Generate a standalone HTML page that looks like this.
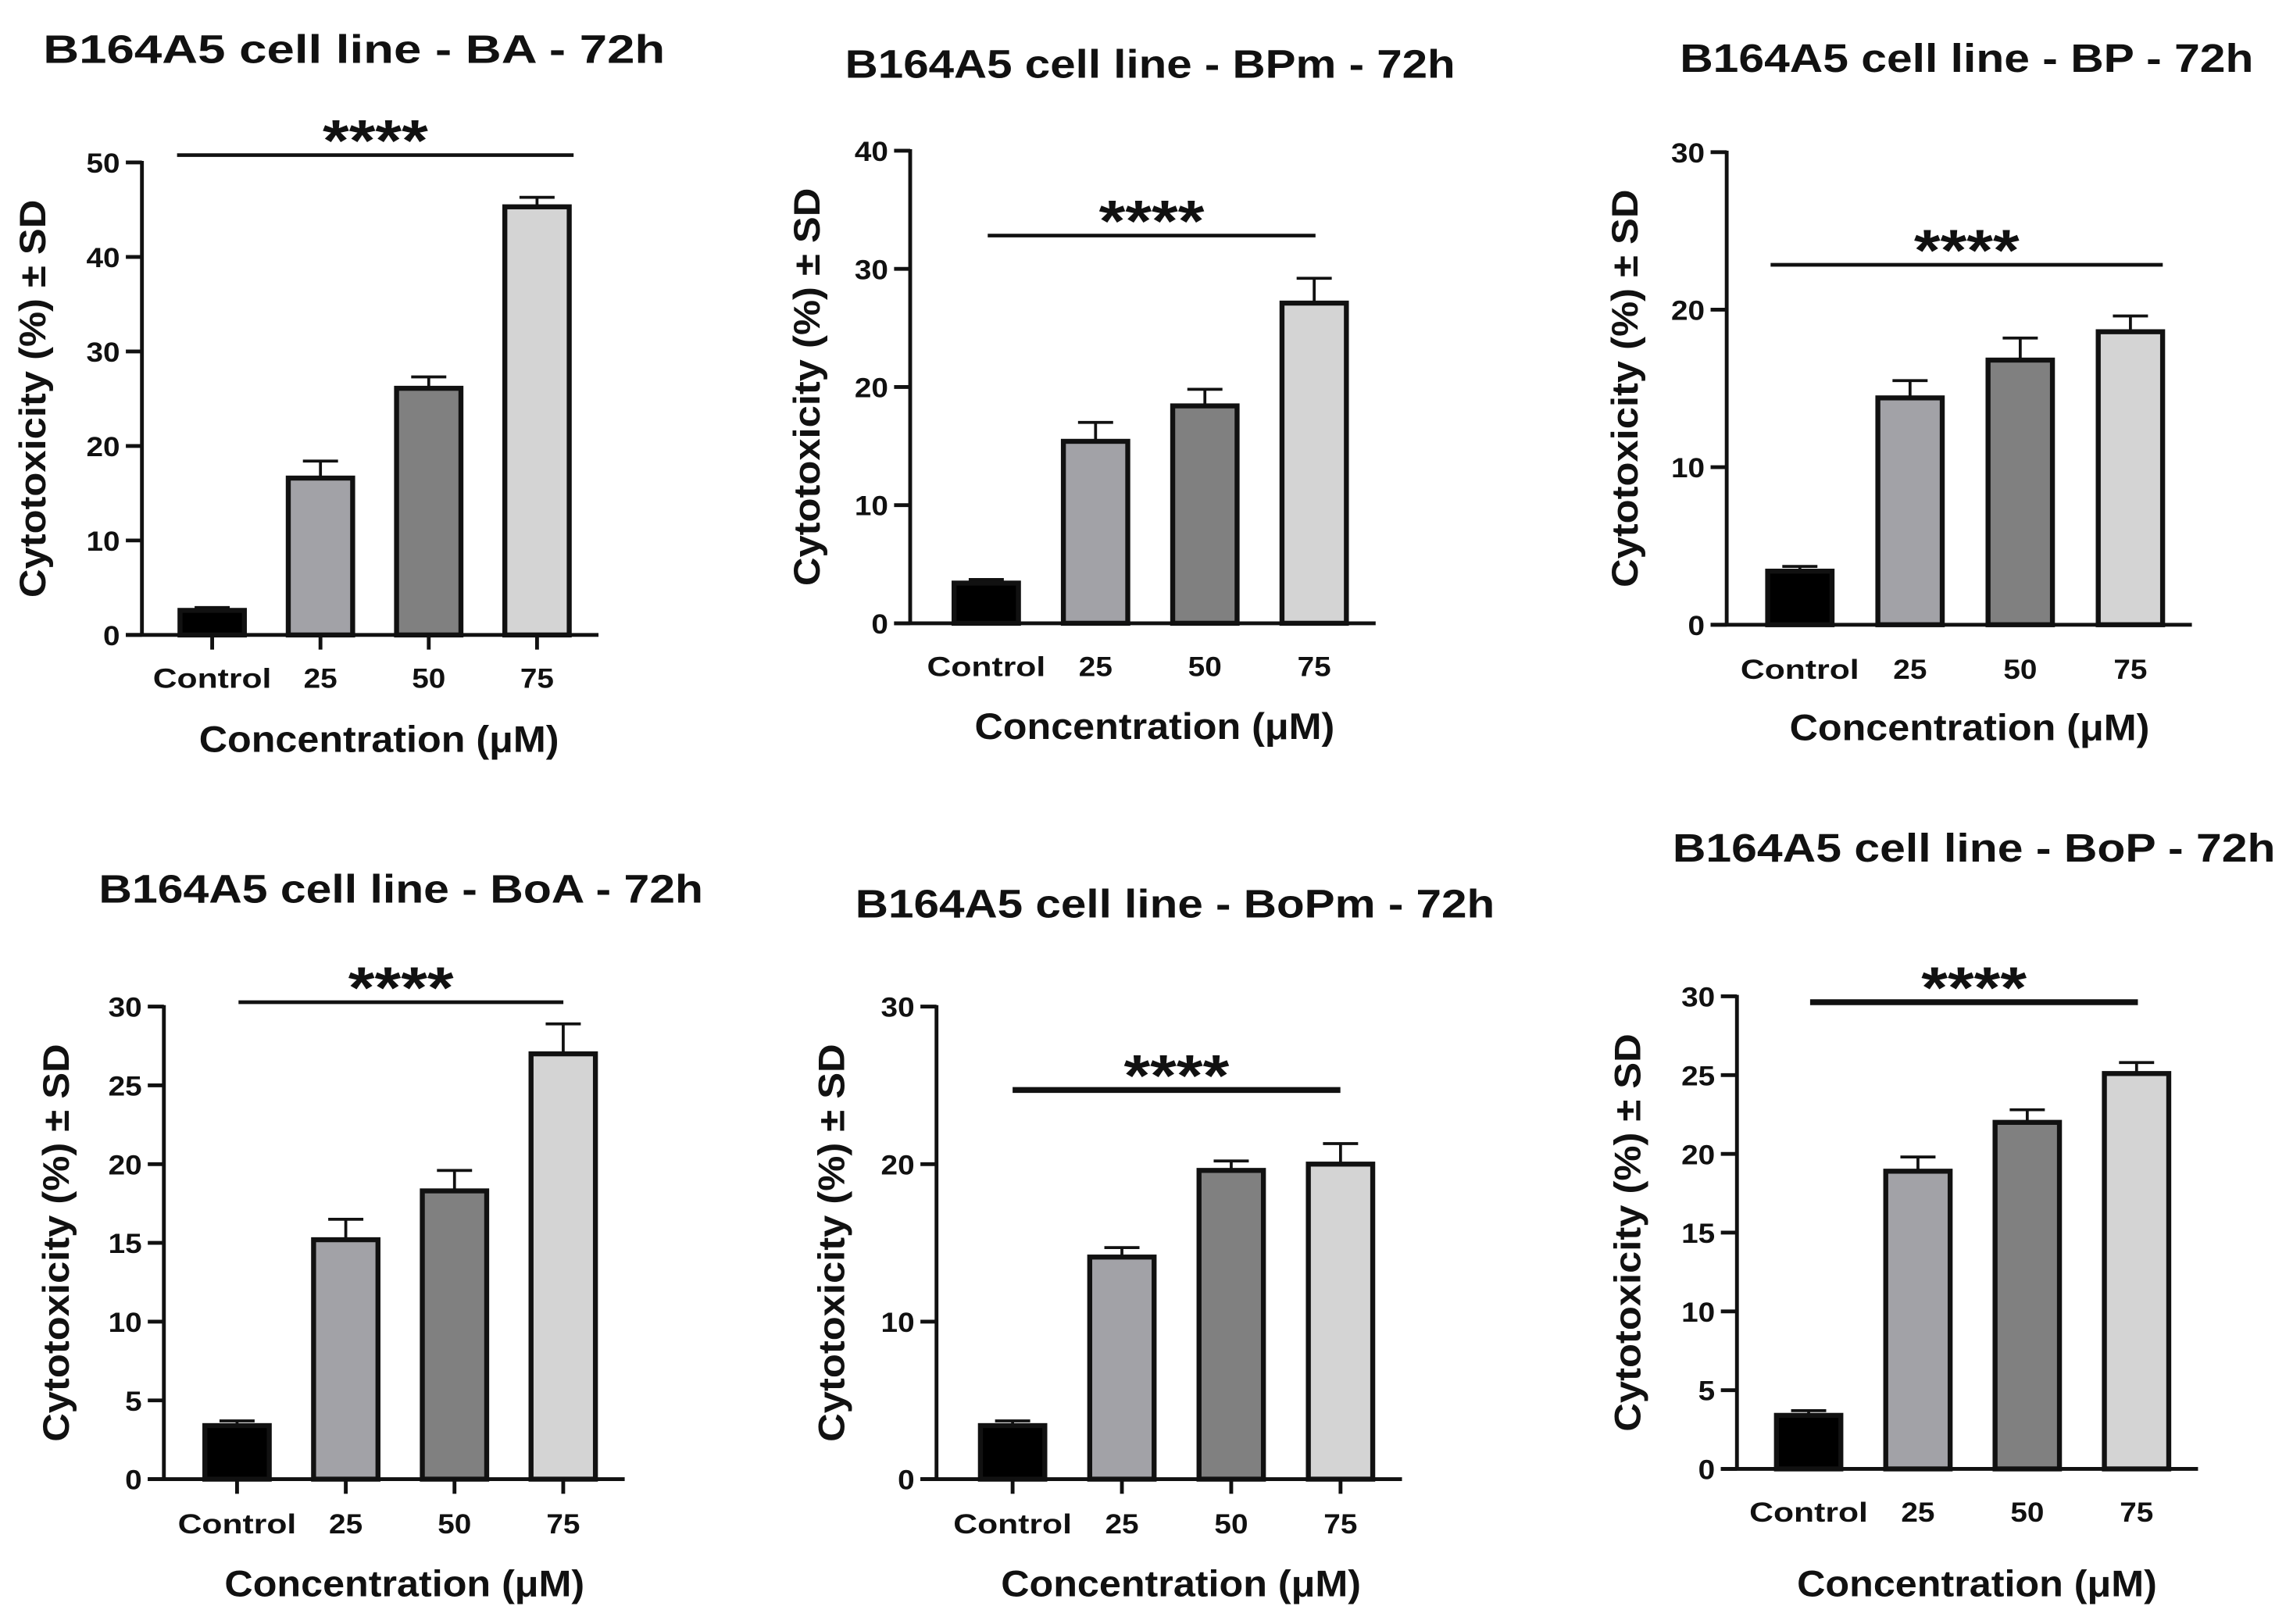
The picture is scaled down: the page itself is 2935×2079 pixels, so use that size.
<!DOCTYPE html>
<html><head><meta charset="utf-8"><style>
html,body{margin:0;padding:0;background:#fff;}
svg{display:block;}
text{font-family:"Liberation Sans",Arial,sans-serif;font-weight:bold;fill:#111;}
</style></head>
<body>
<svg id="fig" xmlns="http://www.w3.org/2000/svg" width="2935" height="2079" viewBox="0 0 1567 1110" preserveAspectRatio="none"></svg>
<script>
const categories = ["Control","25","50","75"];
const valsBA = [2.6,16.6,26.1,45.3];
const errBA = [0.3,1.8,1.2,1.0];
const valsBPm = [3.4,15.4,18.4,27.1];
const errBPm = [0.3,1.6,1.4,2.1];
const valsBP = [3.4,14.4,16.8,18.6];
const errBP = [0.3,1.1,1.4,1.0];
const valsBoA = [3.4,15.2,18.3,27.0];
const errBoA = [0.3,1.3,1.3,1.9];
const valsBoPm = [3.4,14.1,19.6,20.0];
const errBoPm = [0.3,0.6,0.6,1.3];
const valsBoP = [3.4,18.9,22.0,25.1];
const errBoP = [0.3,0.9,0.8,0.7];
const ticks50 = [0,10,20,30,40,50];
const ticks40 = [0,10,20,30,40];
const ticks30 = [0,10,20,30];
const ticks30by5 = [0,5,10,15,20,25,30];
const fills = ["#000000","#a2a2a7","#808080","#d4d4d4"];

const panels = [
 {name:"BA",vals:valsBA,errs:errBA,ticks:ticks50,ax:97,top:111,zero:434,x0:145,dx:74,tx:242,tw:425,ty:43,sig:[106,121,392,2.5],xt:true,lab:463,xtl:505,ytx:22},
 {name:"BPm",vals:valsBPm,errs:errBPm,ticks:ticks40,ax:622,top:103,zero:426,x0:674,dx:74.7,tx:786,tw:417,ty:53,sig:[161,675,899,2.5],xt:false,lab:455,xtl:496,ytx:551},
 {name:"BP",vals:valsBP,errs:errBP,ticks:ticks30,ax:1180,top:104,zero:427,x0:1230,dx:75.3,tx:1344,tw:392,ty:49,sig:[181,1210,1478,2.5],xt:false,lab:457,xtl:497,ytx:1110},
 {name:"BoA",vals:valsBoA,errs:errBoA,ticks:ticks30by5,ax:112,top:688,zero:1011,x0:162,dx:74.3,tx:274,tw:413,ty:617,sig:[685,163,385,2.5],xt:true,lab:1041,xtl:1082,ytx:38},
 {name:"BoPm",vals:valsBoPm,errs:errBoPm,ticks:ticks30,ax:640,top:688,zero:1011,x0:692,dx:74.7,tx:803,tw:437,ty:627,sig:[745,692,916,4],xt:true,lab:1041,xtl:1082,ytx:568},
 {name:"BoP",vals:valsBoP,errs:errBoP,ticks:ticks30by5,ax:1187,top:681,zero:1004,x0:1236,dx:74.7,tx:1349,tw:412,ty:589,sig:[685,1237,1461,4],xt:false,lab:1033,xtl:1082,ytx:1112}
];

const NS="http://www.w3.org/2000/svg";
const svg=document.getElementById("fig");
function mk(tag,attrs,parent){const e=document.createElementNS(NS,tag);for(const k in attrs)e.setAttribute(k,attrs[k]);(parent||svg).appendChild(e);return e;}

panels.forEach(p=>{
  const g=mk("g",{});
  
  
  const maxV=p.ticks[p.ticks.length-1];
  const y=v=>p.zero-(v/maxV)*(p.zero-p.top);
  const x=i=>p.x0+i*p.dx;
  const bw=44;
  const t=mk("text",{x:p.tx,y:p.ty,"text-anchor":"middle","font-size":27,textLength:p.tw,lengthAdjust:"spacingAndGlyphs"},g);t.textContent="B164A5 cell line - "+p.name+" - 72h";
  
  
  const ya=mk("line",{x1:p.ax,x2:p.ax,y1:p.top-1,y2:p.zero,stroke:"#111","stroke-width":2.6},g);
  
  
  p.ticks.forEach(v=>{
    mk("line",{x1:p.ax-11,x2:p.ax,y1:y(v),y2:y(v),stroke:"#111","stroke-width":2.6},g);
    const s=String(v);
    const tl=mk("text",{x:p.ax-15,y:y(v)+7,"text-anchor":"end","font-size":19,textLength:s.length*11.5,lengthAdjust:"spacingAndGlyphs"},g);tl.textContent=s;
    
    
  });
  const xa=mk("line",{x1:p.ax-11,x2:x(3)+bw/2+20,y1:p.zero,y2:p.zero,stroke:"#111","stroke-width":2.6},g);
  
  
  categories.forEach((c,i)=>{
    const v=p.vals[i],e=p.errs[i];
    const eb=mk("path",{d:`M${x(i)} ${y(v)} V${y(v+e)} M${x(i)-12} ${y(v+e)} H${x(i)+12}`,stroke:"#111","stroke-width":2,fill:"none"},g);
    
    
    const r=mk("rect",{x:x(i)-bw/2,y:y(v),width:bw,height:p.zero-y(v),fill:fills[i],stroke:"#111","stroke-width":3.4},g);
    
    
    if(p.xt) mk("line",{x1:x(i),x2:x(i),y1:p.zero,y2:p.zero+10,stroke:"#111","stroke-width":2.6},g);
    const xl=mk("text",{x:x(i),y:p.lab+7,"text-anchor":"middle","font-size":19,textLength:c.length>2?81:23,lengthAdjust:"spacingAndGlyphs"},g);xl.textContent=c;
    
    
  });
  const sl=mk("line",{x1:p.sig[1],x2:p.sig[2],y1:p.sig[0],y2:p.sig[0],stroke:"#111","stroke-width":p.sig[3]},g);
  
  
  const st=mk("text",{x:(p.sig[1]+p.sig[2])/2,y:p.sig[0]+4,"text-anchor":"middle","font-size":40,textLength:72,lengthAdjust:"spacingAndGlyphs"},g);st.textContent="****";
  
  
  const xt=mk("text",{x:(x(0)+x(3))/2+3,y:p.xtl+9,"text-anchor":"middle","font-size":25,textLength:246,lengthAdjust:"spacingAndGlyphs"},g);xt.textContent="Concentration (\u03bcM)";
  
  
  const cy=(p.top+p.zero)/2;
  const yt=mk("text",{x:p.ytx,y:cy,"text-anchor":"middle","font-size":25,textLength:272,lengthAdjust:"spacingAndGlyphs",transform:`rotate(-90 ${p.ytx} ${cy}) translate(0 9)`},g);
  yt.textContent="Cytotoxicity (%) \u00b1 SD";
  
  
});
</script>
</body></html>
